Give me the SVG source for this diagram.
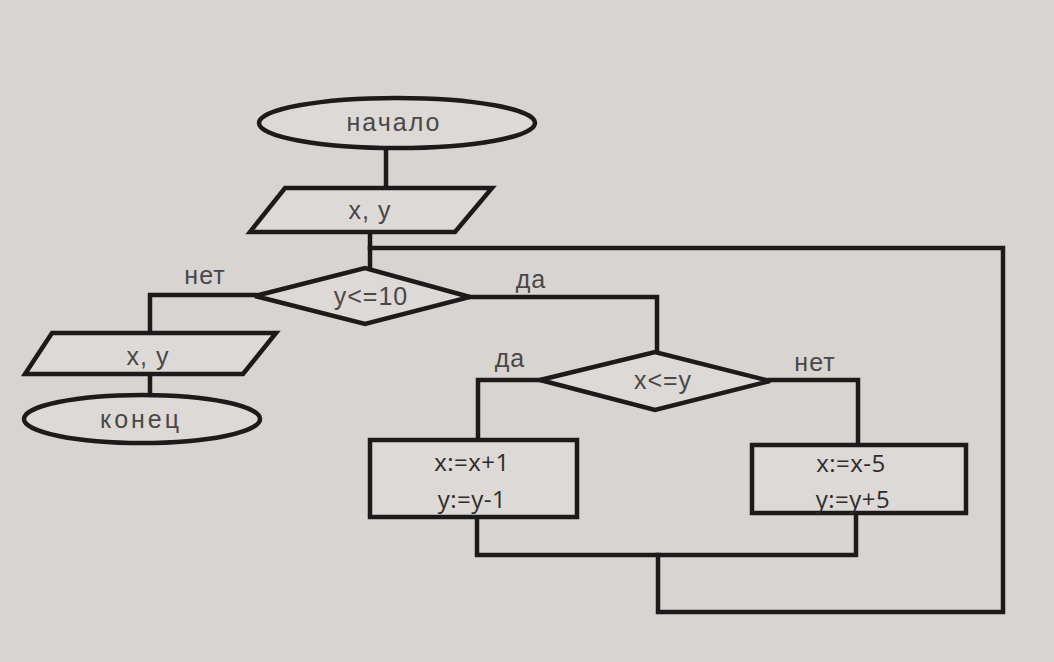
<svg xmlns="http://www.w3.org/2000/svg" width="1054" height="662" viewBox="0 0 1054 662">
<style>
.bg{fill:#d8d4d1}
.sh{fill:#dcd9d6;stroke:#1c1a1a;stroke-width:4.5;stroke-linejoin:miter}
.ln{fill:none;stroke:#1c1a1a;stroke-width:4.5;stroke-linejoin:miter;stroke-linecap:square}
.t{font-family:"Liberation Sans",Arial,sans-serif;font-size:25px;letter-spacing:1px;fill:#4a4746;text-anchor:middle}
.b{font-family:"Open Sans","Liberation Sans",sans-serif;font-size:24px;letter-spacing:0.5px;fill:#2e2b2b;text-anchor:middle}
</style>
<rect class="bg" x="0" y="0" width="1054" height="662"/>
<g id="connectors">
<path class="ln" d="M386,148 V188"/>
<path class="ln" d="M370,232 V268"/>
<path class="ln" d="M370,248 H1003 V612 H658 V555"/>
<path class="ln" d="M255,295 H150 V333"/>
<path class="ln" d="M150,375 V395"/>
<path class="ln" d="M470,297 H657 V352"/>
<path class="ln" d="M540,380 H478 V440"/>
<path class="ln" d="M770,380 H858 V445"/>
<path class="ln" d="M477,517 V555 H856 V513"/>
<text class="t" x="205" y="284">нет</text>
<text class="t" x="531" y="288">да</text>
<text class="t" x="510" y="367">да</text>
<text class="t" x="815" y="371">нет</text>
</g>
<g id="start">
<ellipse class="sh" cx="397" cy="123" rx="138" ry="25"/>
<text class="t" x="394" y="131" style="letter-spacing:2px">начало</text>
</g>
<g id="input">
<polygon class="sh" points="285,188 492,188 455,232 250,232"/>
<text class="t" x="370" y="219">x, y</text>
</g>
<g id="cond1">
<polygon class="sh" points="255,296 365,268 470,297 365,324"/>
<text class="t" x="371" y="305">y&lt;=10</text>
</g>
<g id="output">
<polygon class="sh" points="52,333 276,333 243,374 25,374"/>
<text class="t" x="148" y="365">x, y</text>
</g>
<g id="end">
<ellipse class="sh" cx="142" cy="419" rx="118" ry="24"/>
<text class="t" x="141" y="428" style="letter-spacing:3px">конец</text>
</g>
<g id="cond2">
<polygon class="sh" points="540,380 655,352 770,381 655,410"/>
<text class="t" x="663" y="389">x&lt;=y</text>
</g>
<g id="proc1">
<rect class="sh" x="370" y="440" width="207" height="77"/>
<text class="b" x="472" y="471">x:=x+1</text>
<text class="b" x="472" y="508">y:=y-1</text>
</g>
<g id="proc2">
<rect class="sh" x="752" y="445" width="214" height="68"/>
<text class="b" x="851" y="472">x:=x-5</text>
<text class="b" x="853" y="508">y:=y+5</text>
</g>
</svg>
